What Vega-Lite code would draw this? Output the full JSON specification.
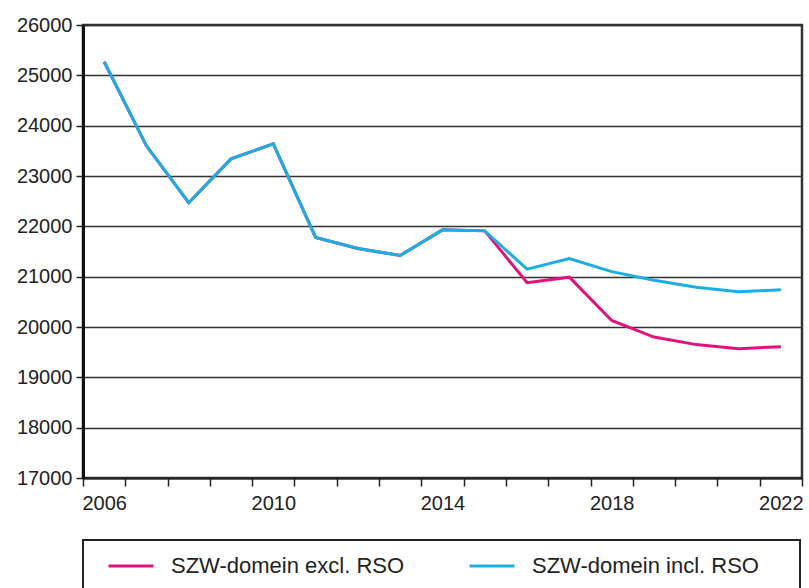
{
  "$schema": "https://vega.github.io/schema/vega-lite/v6.json",
  "width": 719,
  "height": 453,
  "autosize": {"type": "none"},
  "padding": {"left": 83, "top": 25, "right": 7, "bottom": 110},
  "background": "white",
  "data": {
    "values": [
      {"year": 2006, "series": "SZW-domein excl. RSO", "value": 25270},
      {"year": 2007, "series": "SZW-domein excl. RSO", "value": 23600},
      {"year": 2008, "series": "SZW-domein excl. RSO", "value": 22470},
      {"year": 2009, "series": "SZW-domein excl. RSO", "value": 23340},
      {"year": 2010, "series": "SZW-domein excl. RSO", "value": 23640},
      {"year": 2011, "series": "SZW-domein excl. RSO", "value": 21780},
      {"year": 2012, "series": "SZW-domein excl. RSO", "value": 21560},
      {"year": 2013, "series": "SZW-domein excl. RSO", "value": 21420},
      {"year": 2014, "series": "SZW-domein excl. RSO", "value": 21930},
      {"year": 2015, "series": "SZW-domein excl. RSO", "value": 21910},
      {"year": 2016, "series": "SZW-domein excl. RSO", "value": 20880},
      {"year": 2017, "series": "SZW-domein excl. RSO", "value": 20990},
      {"year": 2018, "series": "SZW-domein excl. RSO", "value": 20130},
      {"year": 2019, "series": "SZW-domein excl. RSO", "value": 19800},
      {"year": 2020, "series": "SZW-domein excl. RSO", "value": 19650},
      {"year": 2021, "series": "SZW-domein excl. RSO", "value": 19570},
      {"year": 2022, "series": "SZW-domein excl. RSO", "value": 19610},
      {"year": 2006, "series": "SZW-domein incl. RSO", "value": 25270},
      {"year": 2007, "series": "SZW-domein incl. RSO", "value": 23600},
      {"year": 2008, "series": "SZW-domein incl. RSO", "value": 22470},
      {"year": 2009, "series": "SZW-domein incl. RSO", "value": 23340},
      {"year": 2010, "series": "SZW-domein incl. RSO", "value": 23640},
      {"year": 2011, "series": "SZW-domein incl. RSO", "value": 21780},
      {"year": 2012, "series": "SZW-domein incl. RSO", "value": 21560},
      {"year": 2013, "series": "SZW-domein incl. RSO", "value": 21420},
      {"year": 2014, "series": "SZW-domein incl. RSO", "value": 21930},
      {"year": 2015, "series": "SZW-domein incl. RSO", "value": 21910},
      {"year": 2016, "series": "SZW-domein incl. RSO", "value": 21150},
      {"year": 2017, "series": "SZW-domein incl. RSO", "value": 21360},
      {"year": 2018, "series": "SZW-domein incl. RSO", "value": 21100},
      {"year": 2019, "series": "SZW-domein incl. RSO", "value": 20930},
      {"year": 2020, "series": "SZW-domein incl. RSO", "value": 20790},
      {"year": 2021, "series": "SZW-domein incl. RSO", "value": 20700},
      {"year": 2022, "series": "SZW-domein incl. RSO", "value": 20740}
    ]
  },
  "encoding": {
    "x": {
      "field": "year",
      "type": "ordinal",
      "scale": {"type": "band", "paddingInner": 0, "paddingOuter": 0},
      "axis": {
        "title": null,
        "labelAngle": 0,
        "tickBand": "extent",
        "tickSize": 8,
        "tickWidth": 1.5,
        "tickColor": "#222",
        "labelPadding": 7,
        "labelExpr": "datum.value % 4 == 2 ? datum.label : ''",
        "domainColor": "#222",
        "domainWidth": 2,
        "grid": false
      }
    },
    "y": {
      "field": "value",
      "type": "quantitative",
      "scale": {"domain": [17000, 26000], "nice": false, "zero": false},
      "axis": {
        "title": null,
        "values": [17000, 18000, 19000, 20000, 21000, 22000, 23000, 24000, 25000, 26000],
        "format": "d",
        "tickSize": 7,
        "tickWidth": 1.5,
        "tickColor": "#222",
        "labelPadding": 4,
        "domainColor": "#111",
        "domainWidth": 3,
        "grid": true,
        "gridColor": "#333",
        "gridWidth": 1.5
      }
    },
    "color": {
      "field": "series",
      "type": "nominal",
      "scale": {
        "domain": ["SZW-domein excl. RSO", "SZW-domein incl. RSO"],
        "range": ["#E2127A", "#1BAEE6"]
      },
      "legend": {
        "title": ["\u00a0", "\u00a0", "\u00a0", "\u00a0"],
        "titleOrient": "right",
        "titlePadding": 39,
        "titleFontSize": 20,
        "titleLineHeight": 20,
        "orient": "none",
        "legendX": 0,
        "legendY": 515,
        "direction": "horizontal",
        "symbolType": "stroke",
        "symbolSize": 2025,
        "symbolStrokeWidth": 3,
        "symbolOffset": 22,
        "labelOffset": 16,
        "columnPadding": 41,
        "padding": 2,
        "strokeColor": "#222",
        "labelFontSize": 22,
        "labelColor": "#222",
        "labelLimit": 400
      }
    }
  },
  "layer": [
    {
      "transform": [{"filter": "datum.series == 'SZW-domein excl. RSO'"}],
      "mark": {"type": "line", "strokeWidth": 3}
    },
    {
      "transform": [{"filter": "datum.series == 'SZW-domein incl. RSO'"}],
      "mark": {"type": "line", "strokeWidth": 3}
    }
  ],
  "config": {
    "font": "Liberation Sans",
    "view": {"stroke": "#333", "strokeWidth": 2.5},
    "axis": {"labelFontSize": 20, "labelColor": "#222", "labelFont": "Liberation Sans"},
    "legend": {"labelFont": "Liberation Sans", "strokeWidth": 2}
  }
}
